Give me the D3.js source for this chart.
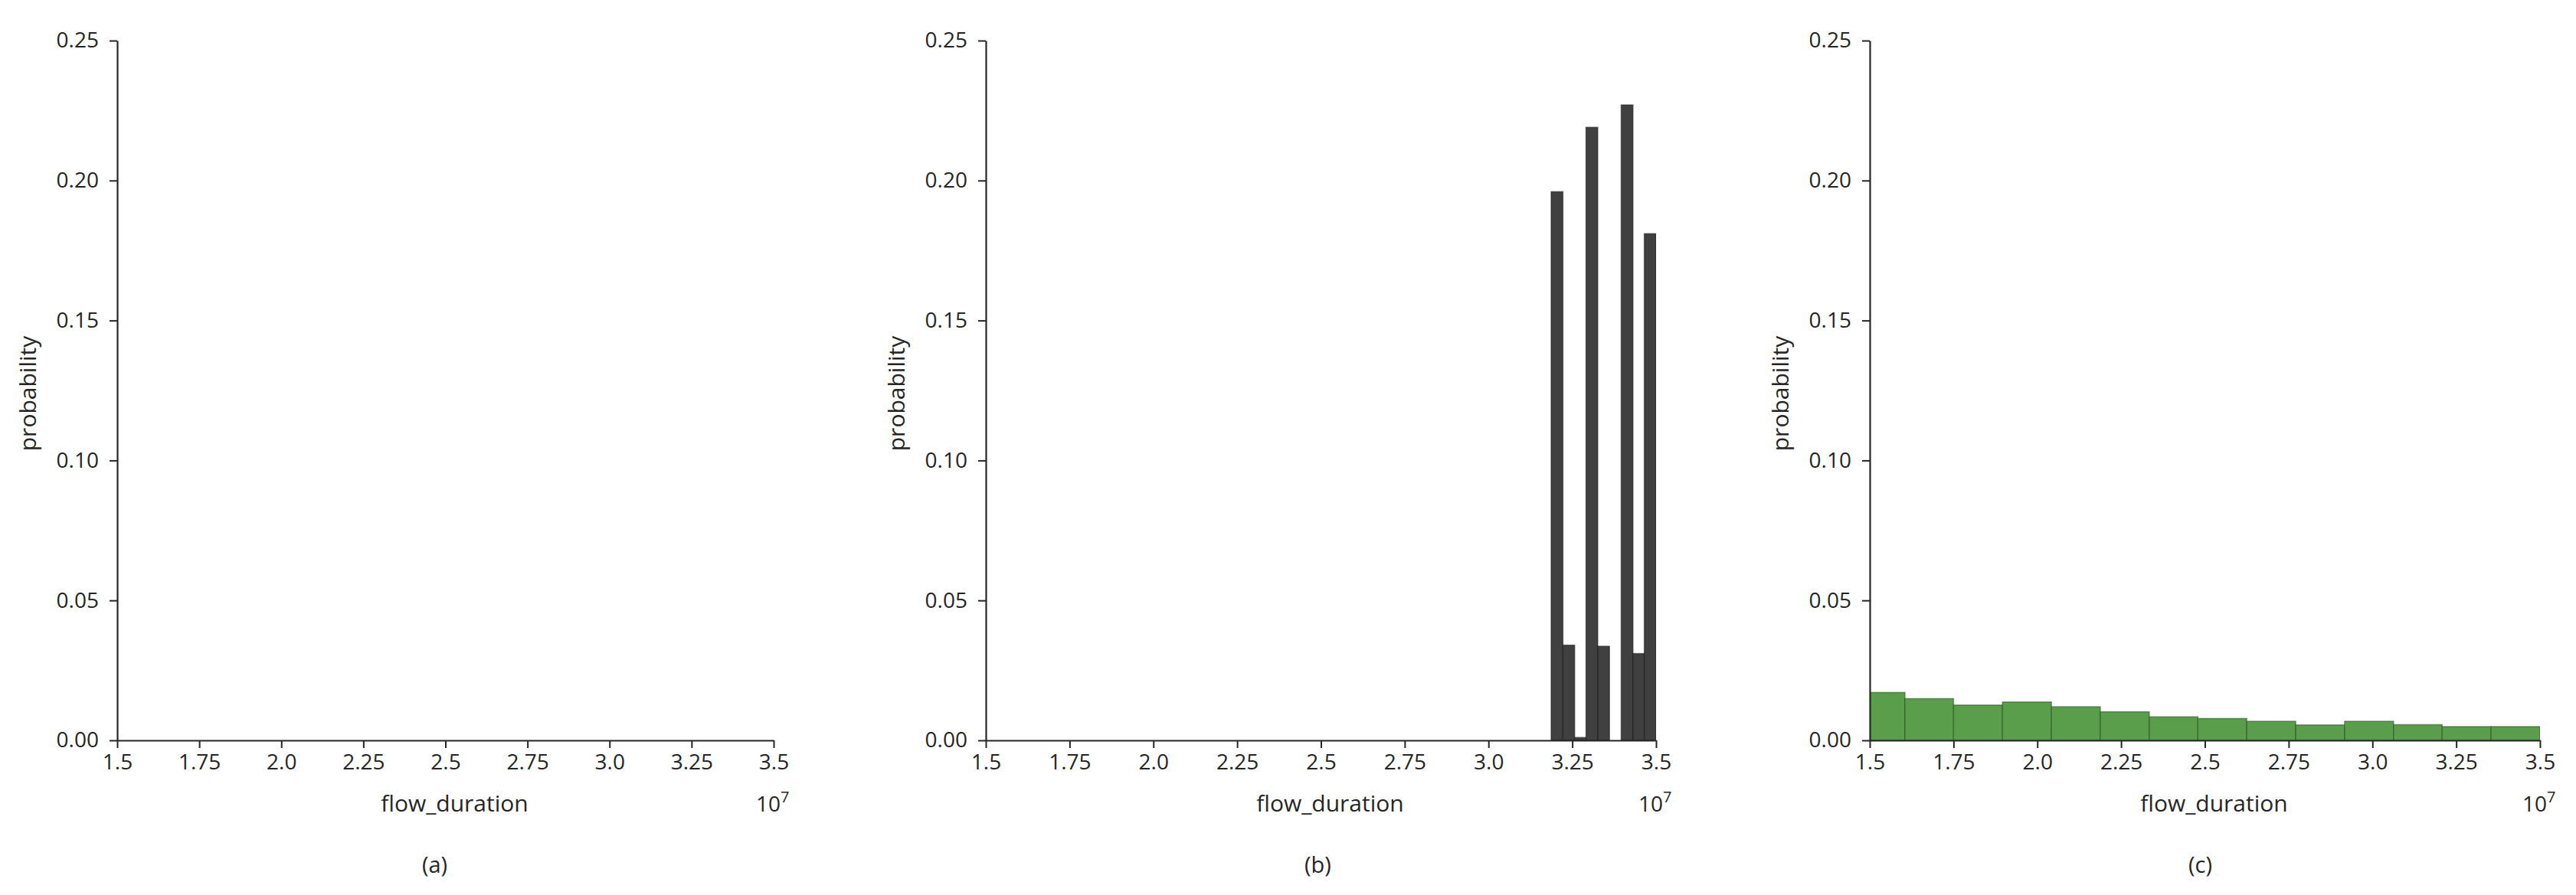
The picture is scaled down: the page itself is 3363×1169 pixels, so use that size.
<!DOCTYPE html>
<html lang="en">
<head>
<meta charset="UTF-8">
<title>flow_duration histograms</title>
<script src="https://d3js.org/d3.v7.min.js"></script>
<style>
  body { margin: 0; background: #fff; }
  text { font-family: "Open Sans", "Noto Sans", sans-serif; fill: #262626; }
</style>
</head>
<body>
<script>
// x tick values (in units of 1e7) and labels
const xTicks = [1.5, 1.75, 2.0, 2.25, 2.5, 2.75, 3.0, 3.25, 3.5];
const xTickLabels = ["1.5", "1.75", "2.0", "2.25", "2.5", "2.75", "3.0", "3.25", "3.5"];
const yTicks = [0, 0.05, 0.10, 0.15, 0.20, 0.25];
const yTickLabels = ["0.00", "0.05", "0.10", "0.15", "0.20", "0.25"];

// panel captions
const captions = ["(a)", "(b)", "(c)"];

// panel (a): empty
const edgesA = [];
const probA = [];

// panel (b): bin edges (x 1e7) and probabilities
const edgesB = [3.187, 3.222, 3.257, 3.291, 3.326, 3.361, 3.396, 3.431, 3.465, 3.500];
const probB = [0.196, 0.034, 0.001, 0.219, 0.0336, 0, 0.227, 0.031, 0.181];

// panel (c)
const edgesC = [1.459, 1.605, 1.750, 1.896, 2.042, 2.188, 2.334, 2.479, 2.625, 2.771, 2.917, 3.063, 3.208, 3.354, 3.500];
const probC = [0.0171, 0.0149, 0.0126, 0.0137, 0.0120, 0.0102, 0.0084, 0.0078, 0.0068, 0.0055, 0.0068, 0.0056, 0.0049, 0.0049];

const W = 3363, H = 1169;
const svg = d3.select("body").append("svg")
    .attr("width", W)
    .attr("height", H);

// panel layout (pixel positions of each plot area)
const panels = [
    { x0: 153, x1: 1010, edges: edgesA, probs: probA, fill: "#404040", stroke: "#1a1a1a", capDx: -14 },
    { x0: 1287, x1: 2162, edges: edgesB, probs: probB, fill: "#404040", stroke: "#1a1a1a", capDx: -4 },
    { x0: 2441, x1: 3316, edges: edgesC, probs: probC, fill: "#5a9e4b", stroke: "#2c5524", capDx: -6 }
];
const yTop = 53, yBottom = 967;

const y = d3.scaleLinear().domain([0, 0.25]).range([yBottom, yTop]);

panels.forEach((p, i) => {
    const x = d3.scaleLinear().domain([1.5, 3.5]).range([p.x0, p.x1]);
    const g = svg.append("g");

    // clip so the first bin of (c) is cut at 1.5
    g.append("clipPath").attr("id", "clip" + i)
        .append("rect")
        .attr("x", p.x0).attr("y", yTop - 5)
        .attr("width", p.x1 - p.x0).attr("height", yBottom - yTop + 5);

    const bins = p.probs.map((v, k) => ({ a: p.edges[k], b: p.edges[k + 1], v: v }));

    g.append("g").attr("clip-path", `url(#clip${i})`)
        .selectAll("rect")
        .data(bins)
        .enter().append("rect")
        .attr("x", d => x(d.a))
        .attr("width", d => x(d.b) - x(d.a))
        .attr("y", d => y(d.v))
        .attr("height", d => yBottom - y(d.v))
        .attr("fill", p.fill)
        .attr("stroke", p.stroke)
        .attr("stroke-opacity", 0.55)
        .attr("stroke-width", 1.6);

    // x axis
    const xAxis = d3.axisBottom(x)
        .tickValues(xTicks)
        .tickFormat((d, k) => xTickLabels[k])
        .tickSize(10)
        .tickSizeOuter(0)
        .tickPadding(8);
    const gx = g.append("g")
        .attr("transform", `translate(0,${yBottom})`)
        .call(xAxis);

    // y axis
    const yAxis = d3.axisLeft(y)
        .tickValues(yTicks)
        .tickFormat((d, k) => yTickLabels[k])
        .tickSize(10)
        .tickSizeOuter(0)
        .tickPadding(14);
    const gy = g.append("g")
        .attr("transform", `translate(${p.x0},0)`)
        .call(yAxis);

    [gx, gy].forEach(ax => {
        ax.select(".domain").attr("stroke", "#262626").attr("stroke-width", 2.2);
        ax.selectAll(".tick line").attr("stroke", "#262626").attr("stroke-width", 2);
        ax.selectAll(".tick text")
            .attr("font-size", 28)
            .attr("font-family", "'Open Sans', 'Noto Sans', sans-serif")
            .attr("fill", "#262626");
    });

    // axis labels
    g.append("text")
        .attr("x", (p.x0 + p.x1) / 2 + 12)
        .attr("y", 1060)
        .attr("text-anchor", "middle")
        .attr("font-size", 30)
        .text("flow_duration");

    g.append("text")
        .attr("transform", `translate(${p.x0 - 106},${(yTop + yBottom) / 2 + 4}) rotate(-90)`)
        .attr("text-anchor", "middle")
        .attr("font-size", 30)
        .text("probability");

    // offset text 10^7
    const off = g.append("text")
        .attr("x", p.x1 - 23)
        .attr("y", 1060)
        .attr("font-size", 28);
    off.append("tspan").text("10");
    off.append("tspan").attr("dy", -12).attr("font-size", 20).text("7");

    // sub caption
    g.append("text")
        .attr("x", (p.x0 + p.x1) / 2 + p.capDx)
        .attr("y", 1140)
        .attr("text-anchor", "middle")
        .attr("font-size", 29)
        .text(captions[i]);
});
</script>
</body>
</html>
